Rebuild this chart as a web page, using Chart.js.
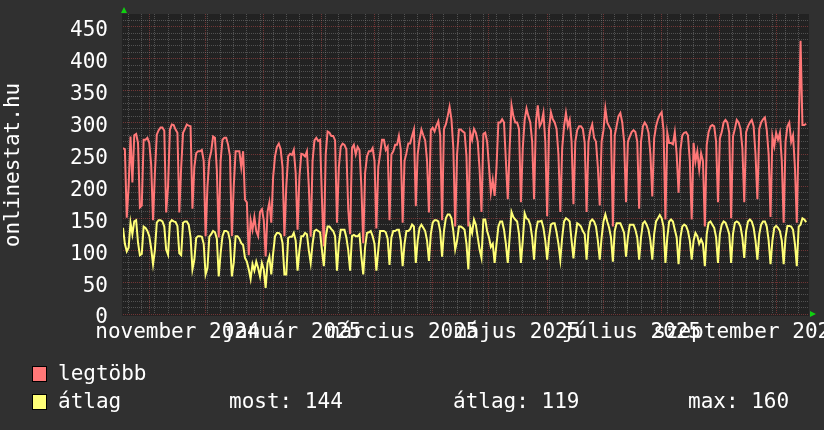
<!DOCTYPE html>
<html>
<head>
<meta charset="utf-8">
<script src="https://cdn.jsdelivr.net/npm/chart.js@4.4.1/dist/chart.umd.min.js"></script>
<style>
    html, body { margin: 0; padding: 0; background: #303030; }
    #doboz { width: 824px; height: 430px; }
</style>
</head>
<body>
<div id="doboz"><canvas id="grafikon" width="824" height="430"></canvas></div>
<script>
// napi adatok, 2024.10.18-tol (0. nap), egy sor = egy het
var legtobb = [
    260, 258, 151,
    200, 278, 206, 280, 282, 268, 167,
    170, 273, 273, 276, 268, 234, 147,
    221, 281, 288, 292, 292, 287, 159,
    200, 289, 297, 296, 289, 284, 159,
    230, 284, 290, 297, 295, 294, 165,
    230, 252, 255, 255, 257, 240, 122,
    200, 242, 255, 278, 276, 225, 120,
    240, 273, 276, 276, 265, 247, 122,
    200, 255, 255, 255, 230, 255, 179,
    175, 92, 147, 132, 152, 130, 122,
    160, 164, 147, 90, 160, 175, 143,
    215, 247, 262, 267, 258, 230, 122,
    200, 247, 251, 249, 257, 221, 132,
    215, 251, 250, 247, 255, 200, 121,
    240, 272, 276, 271, 273, 180, 106,
    250, 286, 284, 279, 279, 272, 143,
    230, 262, 267, 265, 258, 164, 125,
    260, 265, 250, 262, 257, 200, 111,
    221, 247, 255, 255, 260, 240, 134,
    230, 251, 273, 273, 257, 262, 147,
    250, 255, 265, 265, 279, 257, 143,
    240, 252, 267, 267, 279, 289, 169,
    250, 273, 289, 280, 272, 240, 159,
    288, 292, 286, 295, 302, 280, 147,
    290, 297, 310, 325, 305, 260, 137,
    250, 289, 289, 286, 284, 247, 137,
    284, 273, 290, 284, 270, 226, 160,
    282, 284, 270, 231, 190, 210, 185,
    230, 300, 300, 305, 300, 240, 180,
    260, 327, 310, 300, 300, 290, 175,
    260, 304, 322, 310, 300, 270, 180,
    300, 327, 294, 300, 315, 270, 153,
    290, 316, 305, 300, 290, 250, 160,
    260, 294, 315, 294, 304, 270, 172,
    270, 288, 294, 294, 290, 268, 160,
    270, 288, 297, 276, 270, 230, 170,
    270, 288, 322, 300, 294, 288, 137,
    280, 295, 310, 315, 300, 270, 175,
    270, 278, 285, 288, 285, 270, 165,
    270, 294, 300, 295, 284, 250, 184,
    275, 294, 305, 312, 316, 288, 148,
    284, 268, 268, 266, 285, 250, 190,
    257, 280, 284, 285, 280, 240, 148,
    268, 239, 255, 226, 252, 240, 137,
    265, 285, 294, 296, 294, 270, 175,
    275, 285, 300, 304, 300, 284, 150,
    278, 290, 304, 300, 290, 260, 175,
    285, 294, 300, 304, 294, 250, 180,
    290, 300, 305, 308, 288, 250, 152,
    278, 263, 284, 273, 284, 240, 143,
    270, 294, 300, 270, 280, 230, 143,
    285, 428, 296, 296, 298
];

var atlag = [
    135, 110, 98,
    104, 143, 125, 145, 147, 112, 92,
    94, 137, 135, 130, 122, 103, 78,
    100, 143, 147, 147, 145, 137, 101,
    93, 143, 147, 145, 144, 138, 95,
    92, 143, 145, 145, 140, 120, 70,
    85, 119, 122, 122, 121, 110, 62,
    72, 121, 125, 130, 128, 118, 59,
    95, 122, 130, 130, 128, 115, 59,
    80, 122, 122, 118, 111, 108, 88,
    82, 70, 55, 78, 68, 82, 72,
    59, 80, 70, 41, 80, 90, 62,
    95, 122, 127, 127, 124, 111, 62,
    62, 119, 121, 121, 127, 115, 68,
    100, 122, 122, 127, 125, 100, 80,
    110, 130, 132, 130, 128, 100, 75,
    120, 137, 137, 133, 130, 122, 68,
    110, 132, 132, 132, 120, 100, 68,
    122, 124, 122, 122, 125, 90, 62,
    105, 127, 128, 130, 122, 110, 68,
    100, 130, 130, 130, 128, 118, 77,
    120, 130, 130, 132, 132, 115, 75,
    110, 130, 130, 133, 140, 137, 80,
    115, 135, 140, 135, 130, 115, 83,
    125, 143, 147, 147, 145, 130, 90,
    130, 150, 156, 156, 150, 130, 101,
    115, 137, 137, 135, 132, 110, 70,
    137, 127, 148, 140, 120, 101, 88,
    148, 148, 130, 120, 105, 110, 80,
    110, 137, 145, 145, 132, 110, 80,
    120, 160, 152, 148, 145, 125, 80,
    115, 158, 150, 148, 140, 120, 85,
    130, 145, 145, 146, 135, 115, 85,
    120, 140, 142, 142, 128, 110, 85,
    120, 145, 150, 148, 145, 115, 87,
    120, 142, 140, 137, 130, 125, 85,
    130, 145, 148, 145, 137, 115, 85,
    120, 145, 156, 145, 135, 120, 82,
    130, 142, 142, 142, 135, 127, 90,
    120, 140, 140, 140, 132, 120, 85,
    120, 142, 145, 140, 132, 115, 85,
    125, 145, 150, 155, 150, 137, 80,
    120, 145, 148, 145, 132, 120, 78,
    120, 137, 140, 138, 130, 115, 85,
    115, 127, 122, 110, 117, 110, 75,
    125, 143, 145, 140, 135, 120, 80,
    125, 140, 145, 143, 135, 125, 80,
    125, 143, 145, 143, 137, 120, 88,
    130, 145, 148, 145, 135, 115, 85,
    125, 140, 145, 145, 137, 115, 78,
    115, 135, 138, 135, 130, 115, 78,
    120, 138, 138, 137, 132, 110, 75,
    137, 140, 150, 148, 144
];

// honapok elso napja (napban), es a kozepukre tett feliratok
var honapKezdet = [14, 44, 75, 106, 134, 165, 195, 226, 256, 287, 318, 348];
var cimkeHelyek = [29, 90, 149, 210, 271, 333];
var cimkeSzovegek = ['november 2024', 'január 2025', 'március 2025', 'május 2025', 'július 2025', 'szeptember 2025'];
var elsoHetfo = 3;

var sorozatNevek = ['legtöbb', 'átlag'];
var sorozatSzinek = ['#ff7777', '#ffff77'];
var statSzoveg = ['most: 144', 'átlag: 119', 'max: 160'];

var BETU = { family: '"DejaVu Sans Mono", monospace', size: 21 };
var RACS = 'rgba(140,140,140,0.45)';
var FORACS = 'rgba(222,80,80,0.42)';

function pontok(tomb) {
    return tomb.map(function(v, i) { return { x: i, y: v }; });
}

function nullaPadding(scale) {
    scale.paddingTop = 0;
    scale.paddingBottom = 0;
    scale.paddingLeft = 0;
    scale.paddingRight = 0;
}

var keret = {
    id: 'keret',
    beforeDraw: function(chart) {
        var c = chart.ctx, a = chart.chartArea;
        c.save();
        c.fillStyle = '#303030';
        c.fillRect(0, 0, chart.width, chart.height);
        c.fillStyle = '#222222';
        c.fillRect(a.left - 1, a.top, a.right - a.left + 1, a.bottom - a.top + 2);
        c.restore();
    },
    afterDraw: function(chart) {
        var c = chart.ctx, a = chart.chartArea;
        c.save();
        // nyilak
        c.fillStyle = '#10d010';
        c.beginPath();
        c.moveTo(a.left - 2, 13); c.lineTo(a.left + 4, 13); c.lineTo(a.left + 1, 7);
        c.closePath(); c.fill();
        c.beginPath();
        c.moveTo(a.right + 1, a.bottom - 3); c.lineTo(a.right + 1, a.bottom + 3); c.lineTo(a.right + 7, a.bottom);
        c.closePath(); c.fill();

        // fuggoleges cim
        c.fillStyle = '#ffffff';
        c.font = BETU.size + 'px ' + BETU.family;
        c.translate(19, 165);
        c.rotate(-Math.PI / 2);
        c.textAlign = 'center';
        c.textBaseline = 'alphabetic';
        c.fillText('onlinestat.hu', 0, 0);
        c.setTransform(1, 0, 0, 1, 0, 0);

        // jelmagyarazat
        c.textAlign = 'left';
        var sorok = [380, 408];
        for (var i = 0; i < 2; i++) {
            c.fillStyle = sorozatSzinek[i];
            c.fillRect(32, sorok[i] - 14, 15, 16);
            c.strokeStyle = '#000000';
            c.lineWidth = 1;
            c.strokeRect(32.5, sorok[i] - 13.5, 14, 15);
            c.fillStyle = '#ffffff';
            c.fillText(sorozatNevek[i], 58, sorok[i]);
        }
        c.fillText(statSzoveg[0], 229, sorok[1]);
        c.fillText(statSzoveg[1], 453, sorok[1]);
        c.fillText(statSzoveg[2], 688, sorok[1]);
        c.restore();
    }
};

var ctx = document.getElementById('grafikon').getContext('2d');
new Chart(ctx, {
    type: 'line',
    data: {
        datasets: [
            {
                label: sorozatNevek[1],
                data: pontok(atlag),
                borderColor: sorozatSzinek[1],
                borderWidth: 2,
                pointRadius: 0,
                tension: 0,
                fill: false
            }, {
                label: sorozatNevek[0],
                data: pontok(legtobb),
                borderColor: sorozatSzinek[0],
                borderWidth: 2,
                pointRadius: 0,
                tension: 0,
                fill: false
            }
        ]
    },
    options: {
        responsive: false,
        animation: false,
        devicePixelRatio: 1,
        layout: { padding: { top: 14, right: 15, bottom: 0, left: 0 } },
        plugins: {
            legend: { display: false },
            tooltip: { enabled: false },
            title: { display: false }
        },
        scales: {
            x: {
                type: 'linear',
                min: 0,
                max: 365.5,
                afterBuildTicks: function(scale) {
                    var t = [];
                    for (var d = elsoHetfo; d <= 365; d += 7) {
                        if (honapKezdet.indexOf(d) < 0) t.push({ value: d });
                    }
                    honapKezdet.forEach(function(d) { t.push({ value: d }); });
                    cimkeHelyek.forEach(function(d) { t.push({ value: d }); });
                    t.sort(function(p, q) { return p.value - q.value; });
                    scale.ticks = t;
                },
                afterFit: function(scale) {
                    scale.height = 116;
                    nullaPadding(scale);
                },
                grid: {
                    drawTicks: false,
                    lineWidth: 1,
                    color: function(c) {
                        var v = c.tick ? c.tick.value : -1;
                        if (cimkeHelyek.indexOf(v) >= 0) return 'rgba(0,0,0,0)';
                        if (honapKezdet.indexOf(v) >= 0) return FORACS;
                        return RACS;
                    }
                },
                border: { display: false, dash: [1, 1] },
                ticks: {
                    autoSkip: false,
                    maxRotation: 0,
                    minRotation: 0,
                    padding: 6,
                    color: '#ffffff',
                    font: BETU,
                    callback: function(v) {
                        var i = cimkeHelyek.indexOf(v);
                        return i >= 0 ? cimkeSzovegek[i] : '';
                    }
                }
            },
            y: {
                min: 0,
                max: 470,
                afterBuildTicks: function(scale) {
                    var t = [];
                    for (var v = 0; v <= 470; v += 10) t.push({ value: v });
                    scale.ticks = t;
                },
                afterFit: function(scale) {
                    scale.width = 123;
                    nullaPadding(scale);
                },
                grid: {
                    drawTicks: false,
                    lineWidth: 1,
                    color: function(c) {
                        var v = c.tick ? c.tick.value : 0;
                        if (v === 470) return 'rgba(0,0,0,0)';
                        return v % 50 === 0 ? FORACS : RACS;
                    }
                },
                border: { display: false, dash: [1, 1] },
                ticks: {
                    autoSkip: false,
                    padding: 15,
                    labelOffset: 4,
                    color: '#ffffff',
                    font: BETU,
                    callback: function(v) { return v % 50 === 0 ? String(v) : ''; }
                }
            }
        }
    },
    plugins: [keret]
});
</script>
</body>
</html>
